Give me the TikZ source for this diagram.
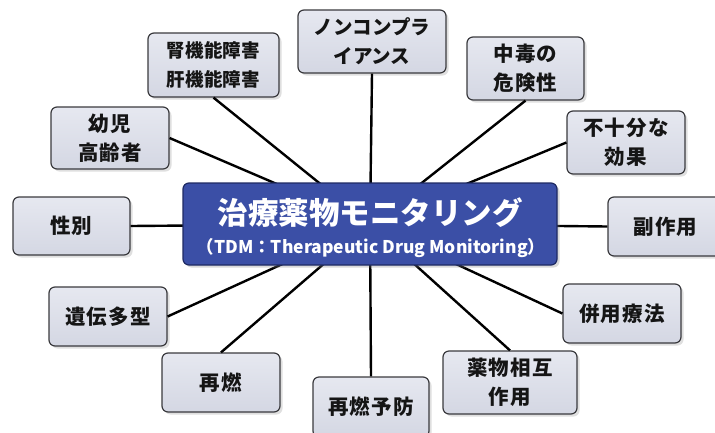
\documentclass[tikz,border=0pt]{standalone}
\usepackage{fontspec}
\setmainfont{Noto Sans CJK JP}
\usetikzlibrary{shadows}
\definecolor{boxfillA}{HTML}{E6E8F0}
\definecolor{boxfillB}{HTML}{D4D7E3}
\definecolor{boxline}{HTML}{3A3A3E}
\definecolor{hubfill}{HTML}{3B4FA6}
\definecolor{hubline}{HTML}{1E2A63}
\definecolor{txt}{HTML}{151515}
\tikzset{
  item/.style={draw=boxline, line width=1.2pt, rounded corners=6pt,
    top color=boxfillA, bottom color=boxfillB,
    drop shadow={opacity=0.25, shadow xshift=2.5pt, shadow yshift=-2.5pt},
    text=txt, align=center, inner sep=0pt,
    font=\bfseries\fontsize{20.5}{29}\selectfont\addfontfeature{LetterSpace=5}},
  hub/.style={draw=hubline, line width=1.2pt, rounded corners=6pt, fill=hubfill,
    drop shadow={opacity=0.3, shadow xshift=2.5pt, shadow yshift=-2.5pt},
    text=white, align=center, inner sep=0pt},
  link/.style={line width=2.4pt, black}
}
\begin{document}
\begin{tikzpicture}[x=1pt,y=-1pt]
\useasboundingbox (0,0) rectangle (715,432);
\begin{scope}
\clip (0,0) rectangle (715,432);
\coordinate (hc) at (370,224);
% items
\node[item, minimum width=131pt, minimum height=64pt, font=\bfseries\fontsize{18.5}{29}\selectfont\addfontfeature{LetterSpace=1}] (jin) at (213.5,65) {腎機能障害\\肝機能障害};
\node[item, minimum width=118pt, minimum height=62pt] (youji) at (110,138) {幼児\\高齢者};
\node[item, minimum width=148pt, minimum height=63pt, font=\bfseries\fontsize{19.5}{29}\selectfont] (non) at (372,41.5) {ノンコンプラ\\イアンス};
\node[item, minimum width=117pt, minimum height=63pt] (chudoku) at (525.5,68.5) {中毒の\\危険性};
\node[item, minimum width=118pt, minimum height=63pt] (fujubun) at (626,142.5) {不十分な\\効果};
\node[item, minimum width=117pt, minimum height=58pt] (seibetsu) at (71.5,226) {性別};
\node[item, minimum width=115pt, minimum height=59pt] (fuku) at (665.5,226.5) {副作用};
\node[item, minimum width=118pt, minimum height=59pt] (iden) at (108,316.5) {遺伝多型};
\node[item, minimum width=118pt, minimum height=59pt] (sainen) at (221,382.5) {再燃};
\node[item, minimum width=116pt, minimum height=60pt] (yobou) at (371,407) {再燃予防};
\node[item, minimum width=134pt, minimum height=63pt] (yakubutsu) at (510,382.5) {薬物相互\\作用};
\node[item, minimum width=118pt, minimum height=59pt] (heiyou) at (622,313.5) {併用療法};
% connectors
\draw[link] (jin.south) -- (hc);
\draw[link] (youji.east) -- (hc);
\draw[link] (non.south) -- (hc);
\draw[link] (chudoku.south) -- (hc);
\draw[link] (fujubun.west) -- (hc);
\draw[link] (seibetsu.east) -- (hc);
\draw[link] (fuku.west) -- (hc);
\draw[link] (iden.east) -- (hc);
\draw[link] (sainen.north) -- (hc);
\draw[link] (yobou.north) -- (hc);
\draw[link] (yakubutsu.north) -- (hc);
\draw[link] (heiyou.west) -- (hc);
% hub
\node[hub, minimum width=374pt, minimum height=82pt] (hub) at (hc) {};
\node[text=white, font=\bfseries\fontsize{30.5}{30.5}\selectfont, inner sep=0pt] (title) at (370,213) {治療薬物モニタリング};
\node[text=white, font=\bfseries\fontsize{17.5}{17.5}\selectfont, inner sep=0pt] (sub) at (371,248) {（TDM：Therapeutic Drug Monitoring）};
\end{scope}
\end{tikzpicture}
\end{document}
